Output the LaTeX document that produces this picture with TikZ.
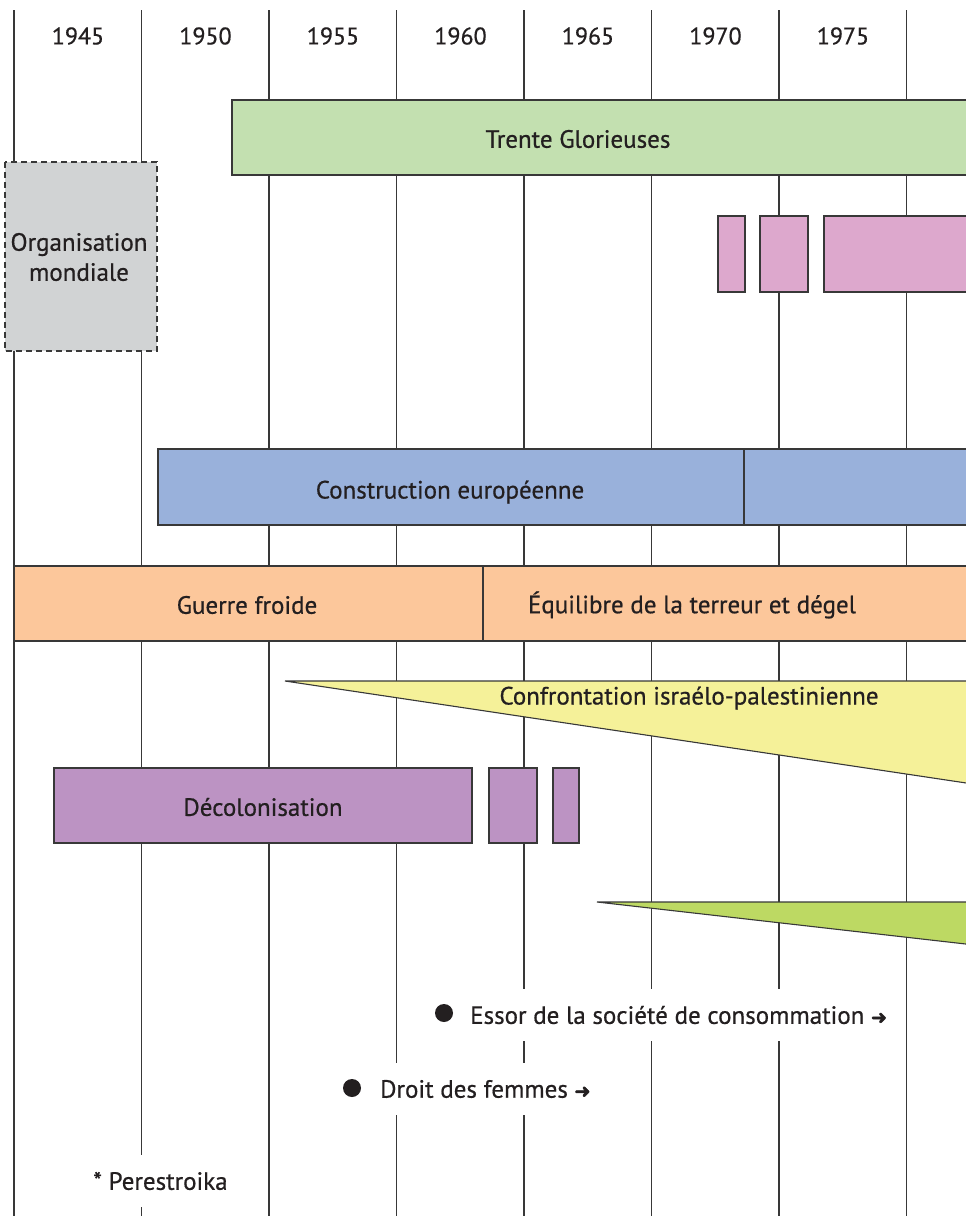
\documentclass[tikz,border=0pt]{standalone}
\usepackage{fontspec}
\setmainfont{PT Sans}[FakeBold=0.6]
\newfontfamily\symf{DejaVu Sans}[FakeBold=2.5]
\definecolor{ln}{HTML}{383838}
\definecolor{txt}{HTML}{231F20}
\definecolor{cgreen}{HTML}{C3E0B0}
\definecolor{cgray}{HTML}{D1D3D4}
\definecolor{cpink}{HTML}{DDA8CD}
\definecolor{cblue}{HTML}{99B1DB}
\definecolor{corange}{HTML}{FCC79B}
\definecolor{cyellow}{HTML}{F5F199}
\definecolor{cpurple}{HTML}{BC93C3}
\definecolor{clime}{HTML}{BDD963}
\newcommand{\arr}{{\symf\fontsize{19}{19}\selectfont ➜}}
\begin{document}
\begin{tikzpicture}[x=1pt,y=-1pt,
  every node/.style={text=txt, font=\fontsize{25}{30}\selectfont, inner sep=0pt},
  yearlbl/.style={font=\fontsize{24}{28}\selectfont},
  vline/.style={draw=ln, line width=1.1pt},
  bar/.style={draw=ln, line width=1.1pt},
  dashbar/.style={draw=ln, line width=1.1pt, dash pattern=on 6pt off 4pt, fill=cgray},
  whitebg/.style={fill=white, minimum height=52pt, inner xsep=5pt},
  dot/.style={circle, fill=txt, minimum size=18pt, inner sep=0pt}]
\useasboundingbox (0,0) rectangle (966,1216);
\clip (0,0) rectangle (966,1216);
\fill[white] (0,0) rectangle (966,1216);
% vertical year lines
\foreach \k in {0,...,7} \draw[vline] ({14+127.5*\k},10) -- ({14+127.5*\k},1220);
% year labels
\foreach \yr [count=\k from 0] in {1945,1950,1955,1960,1965,1970,1975}
  \node[yearlbl] (y\yr) at ({78+127.5*\k},36) {\yr};
% Trente Glorieuses
\draw[bar, fill=cgreen] (232,100) rectangle (980,175);
\node (tg) at (578,139) {Trente Glorieuses};
% Organisation mondiale
\draw[dashbar] (5,162) rectangle (157,351);
\node[align=center] (om) at (79,257) {Organisation\\mondiale};
% pink bars
\draw[bar, fill=cpink] (718,216) rectangle (745,292);
\draw[bar, fill=cpink] (760,216) rectangle (808,292);
\draw[bar, fill=cpink] (824,216) rectangle (980,292);
% Construction europeenne
\draw[bar, fill=cblue] (158,449) rectangle (980,525);
\draw[bar] (744,449) -- (744,525);
\node (ce) at (450,492) {Construction européenne};
% Guerre froide
\draw[bar, fill=corange] (14,566) rectangle (980,641);
\draw[bar] (483,566) -- (483,641);
\node (gf) at (247,605) {Guerre froide};
\node (eq) at (692,605) {Équilibre de la terreur et dégel};
% Confrontation
\draw[bar, fill=cyellow] (285,681) -- (985,681) -- (985,785.8) -- cycle;
\node (cip) at (689,698) {Confrontation israélo-palestinienne};
% Decolonisation
\draw[bar, fill=cpurple] (54,768) rectangle (472,843);
\draw[bar, fill=cpurple] (489,768) rectangle (537,843);
\draw[bar, fill=cpurple] (553,768) rectangle (579,843);
\node (dec) at (263,807) {Décolonisation};
% lime triangle
\draw[bar, fill=clime] (597,902) -- (985,902) -- (985,946.2) -- cycle;
% Essor
\node[whitebg, anchor=west] (essor) at (465,1015) {Essor de la société de consommation \arr};
\node[dot] (d1) at (444,1013) {};
% Droit des femmes
\node[whitebg, anchor=west] (droit) at (375,1089) {Droit des femmes \arr};
\node[dot] (d2) at (352,1088) {};
% Perestroika
\node[whitebg, anchor=west] (per) at (88,1181) {* Perestroika};
\end{tikzpicture}
\end{document}
